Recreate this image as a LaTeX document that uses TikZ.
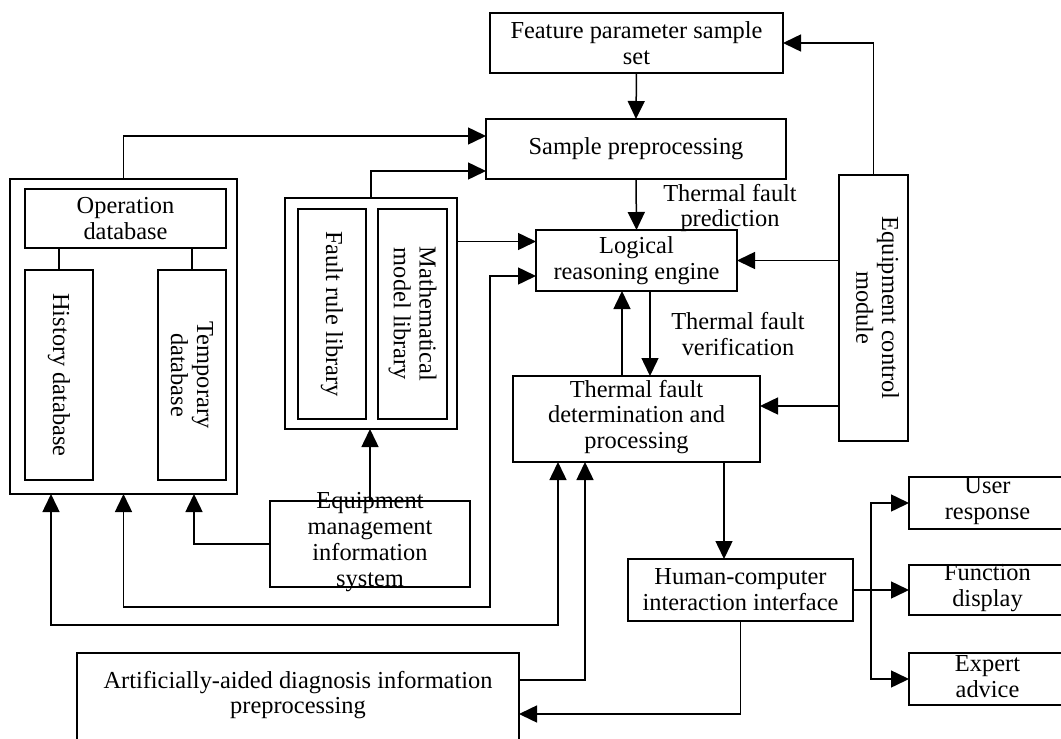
\documentclass[tikz,border=0pt]{standalone}
\usepackage{fontspec}
\setmainfont{Liberation Serif}
\usetikzlibrary{arrows.meta,fit,calc}
\newcommand\fsz{\fontsize{24.4}{25.8}\selectfont}
\newcommand\mkbox[7][]{%
  \node[box, fit={(#3,#4) (#5,#6)}] (#2) {};
  \node[txt,#1] (#2-t) at (#2.center) {#7};}
\tikzset{
  box/.style={draw, line width=1.6pt, inner sep=0pt, outer sep=0pt},
  txt/.style={align=center, font=\fsz, inner sep=0pt},
  arr/.style={-{Triangle[length=18pt,width=17pt]}, line width=1.5pt},
  arrb/.style={{Triangle[length=18pt,width=17pt]}-{Triangle[length=18pt,width=17pt]}, line width=1.5pt},
  ln/.style={line width=1.5pt}
}
\begin{document}
\begin{tikzpicture}[x=1pt,y=-1pt]
\useasboundingbox (0,0) rectangle (1061,739);
\clip (0,0) rectangle (1061,739);
% top column
\mkbox{fps}{490}{13}{783}{73}{Feature parameter sample\\set}
\mkbox{sp}{486}{119}{786}{179}{Sample preprocessing}
\mkbox{lre}{536}{230}{737}{291}{Logical\\reasoning engine}
\mkbox[yshift=2pt]{tfd}{513}{376}{760}{462}{Thermal fault\\determination and\\processing}
\mkbox[xshift=4pt,rotate=-90]{ecm}{839}{175}{908}{441}{Equipment control\\module}
% left database group
\mkbox{outerL}{10}{179}{237}{494}{}
\mkbox{opdb}{25}{189}{226}{248}{Operation\\database}
\mkbox[rotate=-90]{hist}{25}{270}{93}{480}{History database}
\mkbox[rotate=-90]{temp}{158}{270}{226}{480}{Temporary\\database}
% library group
\mkbox{lib}{285}{198}{457}{429}{}
\mkbox[rotate=-90]{frl}{298}{209}{366}{419}{Fault rule library}
\mkbox[rotate=-90]{mml}{378}{209}{447}{419}{Mathematical\\model library}
% bottom
\mkbox[yshift=2pt]{emis}{270}{501}{470}{587}{Equipment\\management\\information\\system}
\mkbox{hci}{628}{559}{853}{621}{Human-computer\\interaction interface}
\mkbox[yshift=4pt]{aa}{77}{653}{519}{745}{Artificially-aided diagnosis information\\preprocessing}
\mkbox[yshift=2pt]{ur}{909}{477}{1066}{529}{User\\response}
\mkbox[yshift=2pt]{fd}{909}{565}{1066}{615}{Function\\display}
\mkbox[yshift=2pt]{ea}{909}{653}{1066}{705}{Expert\\advice}
% labels
\node[txt] (lblpred) at (730,208) {Thermal fault\\prediction};
\node[txt] (lblver) at (738,334) {Thermal fault\\verification};
% connectors
\draw[arr] (fps.south) -- (sp.north);
\draw[arr] (outerL.north) |- ([yshift=13pt]sp.west);
\draw[arr] (lib.north) |- ([yshift=-22pt]sp.west);
\draw[arr] (sp.south) -- (lre.north);
\draw[arr] ([yshift=19pt]lre.west -| lib.east) -- ([yshift=19pt]lre.west);
\draw[ln] (hist.north) -- (hist.north |- opdb.south);
\draw[ln] (temp.north) -- (temp.north |- opdb.south);
\coordinate (c1) at (490,607);
\draw[arrb] (outerL.south) |- (c1) |- ([yshift=-15.5pt]lre.west);
\coordinate (c2) at (558,625);
\draw[arrb] ([xshift=-72.5pt]outerL.south) |- (c2) -- (c2 |- tfd.south);
\draw[arr] (emis.west) -| ([xshift=70.5pt]outerL.south);
\draw[arr] (emis.north) -- (emis.north |- lib.south);
\draw[arr] ([yshift=19pt]aa.east) -| ([xshift=-51.5pt]tfd.south);
\draw[arr] ([xshift=-14.5pt]tfd.north) -- ([xshift=-14.5pt]lre.south);
\draw[arr] ([xshift=13.5pt]lre.south) -- ([xshift=13.5pt]tfd.north);
\draw[arr] (ecm.north) |- (fps.east);
\draw[arr] (ecm.west |- lre.east) -- (lre.east);
\draw[arr] ([yshift=13pt]tfd.east -| ecm.west) -- ([yshift=13pt]tfd.east);
\draw[arr] ([xshift=87.5pt]tfd.south) -- ([xshift=87.5pt]tfd.south |- hci.north);
\draw[arr] (hci.south) |- ([yshift=-15pt]aa.east);
\coordinate (br) at (871,590);
\draw[ln] (hci.east) -- (br);
\draw[arr] (br) |- (ur.west);
\draw[arr] (br) -- (fd.west);
\draw[arr] (br) |- (ea.west);
\end{tikzpicture}
\end{document}
